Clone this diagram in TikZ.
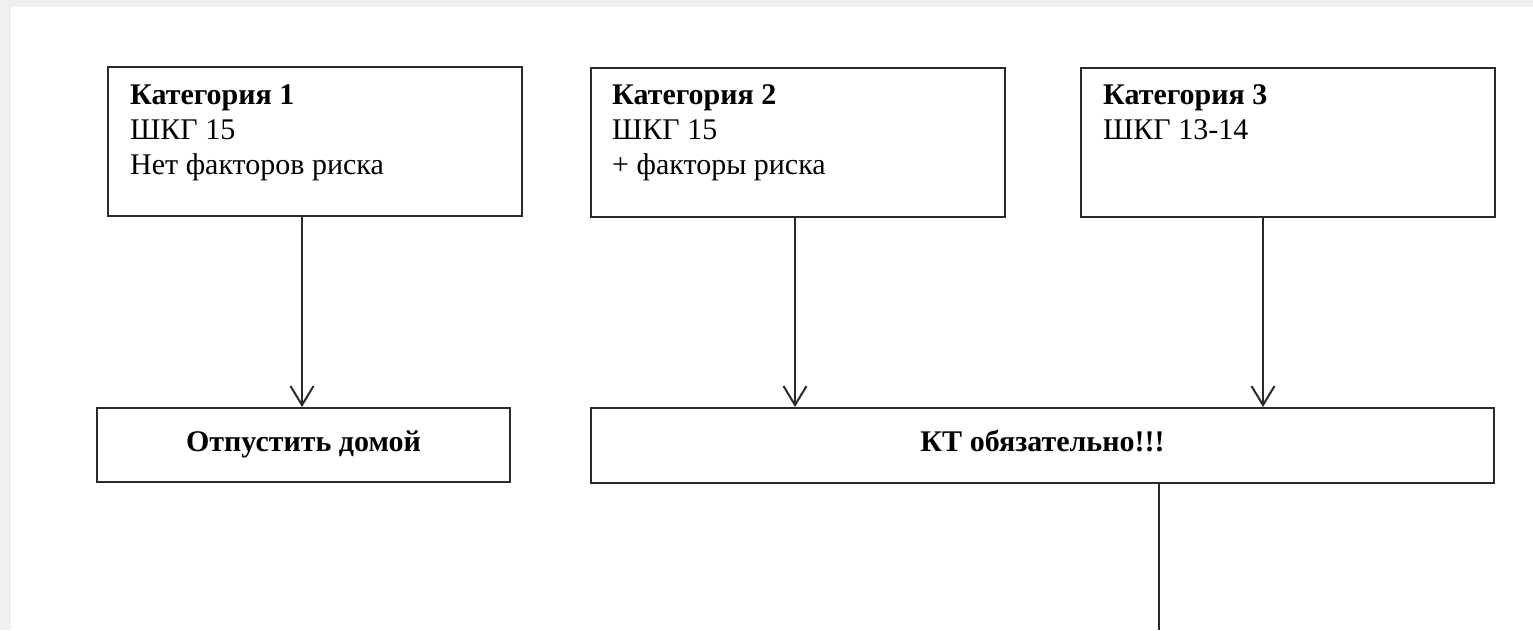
\documentclass[tikz,border=0pt]{standalone}
\usepackage{fontspec}
\setmainfont{Liberation Serif}
\usetikzlibrary{arrows.meta,calc}
\definecolor{pagegray}{HTML}{EFEFEF}
\definecolor{linegray}{HTML}{2A2A2A}
\tikzset{
  catbox/.style={draw=linegray, line width=2pt, anchor=north west, inner sep=0pt},
  cattext/.style={anchor=base west, inner sep=0pt, text=black},
  resbox/.style={draw=linegray, line width=2pt, anchor=north west, inner sep=0pt},
  flow/.style={draw=linegray, line width=2.2pt, -{Straight Barb[length=19pt,width=23pt,line width=2pt]}},
  plainline/.style={draw=linegray, line width=2.4pt}
}
\newcommand{\bigtext}{\fontsize{30}{35}\selectfont}
\begin{document}
\begin{tikzpicture}[x=1pt,y=1pt]
\useasboundingbox (0,0) rectangle (1533,630);
\fill[pagegray] (0,0) rectangle (1533,630);
\fill[white] (11,0) rectangle (1533,623);
% category boxes
\node[catbox, minimum width=414pt, minimum height=149pt] (c1) at (107,564) {};
\node[catbox, minimum width=414pt, minimum height=149pt] (c2) at (590,563) {};
\node[catbox, minimum width=414pt, minimum height=149pt] (c3) at (1080,563) {};
\node[cattext] (t1) at (130,525) {\parbox[t]{380pt}{\bigtext\textbf{Категория 1}\\ШКГ 15\\Нет факторов риска}};
\node[cattext] (t2) at (612,525) {\parbox[t]{380pt}{\bigtext\textbf{Категория 2}\\ШКГ 15\\+ факторы риска}};
\node[cattext] (t3) at (1103,525) {\parbox[t]{380pt}{\bigtext\textbf{Категория 3}\\ШКГ 13-14}};
% result boxes
\node[resbox, minimum width=413pt, minimum height=74pt] (r1) at (96,223) {};
\node[resbox, minimum width=903pt, minimum height=75pt] (r2) at (590,223) {};
\node[anchor=base, inner sep=0pt] (rt1) at ($(r1.center)+(0,-6)$) {\bigtext\textbf{Отпустить домой}};
\node[anchor=base, inner sep=0pt] (rt2) at ($(r2.center)+(0,-6)$) {\bigtext\textbf{КТ обязательно!!!}};
% connectors
\draw[flow] ($(c1.south west)+(195,0)$) -- ($(r1.north west)+(206,0)$);
\draw[flow] ($(c2.south west)+(205,0)$) -- ($(r2.north west)+(205,0)$);
\draw[flow] ($(c3.south west)+(183,0)$) -- ($(r2.north west)+(673,0)$);
\coordinate (down) at (1159,0);
\draw[plainline] (r2.south -| down) -- (down);
\end{tikzpicture}
\end{document}
